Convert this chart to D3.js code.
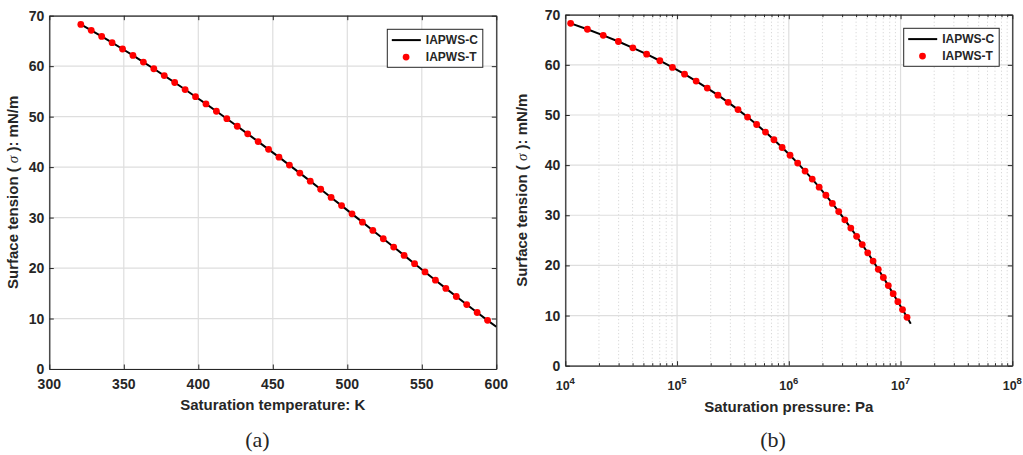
<!DOCTYPE html>
<html>
<head>
<meta charset="utf-8">
<script src="https://cdn.jsdelivr.net/npm/d3@7"></script>
<style>
  body { margin: 0; background: #fff; }
  text { font-family: "Liberation Sans", Arial, sans-serif; fill: #262626; }
</style>
</head>
<body>
<div id="chart"></div>
<script>
// saturation temperature of the IAPWS-T points (K)
const satTempK = [321.15, 328.15, 335.15, 342.15, 349.15, 356.15, 363.15, 370.15, 377.15, 384.15,
    391.15, 398.15, 405.15, 412.15, 419.15, 426.15, 433.15, 440.15, 447.15, 454.15,
    461.15, 468.15, 475.15, 482.15, 489.15, 496.15, 503.15, 510.15, 517.15, 524.15,
    531.15, 538.15, 545.15, 552.15, 559.15, 566.15, 573.15, 580.15, 587.15, 594.15];

// saturation pressure of the same points (Pa)
const satPressurePa = [11165, 15763, 21848, 29859, 40218, 53436, 70183, 90970, 116720, 148200,
    186310, 232230, 286700, 351300, 427130, 515490, 618230, 736100, 871550, 1025900,
    1200800, 1398800, 1620600, 1869500, 2147000, 2455000, 2797100, 3173300, 3588200, 4043200,
    4540900, 5085300, 5676200, 6319700, 7017000, 7770300, 8587900, 9466300, 10414000, 11433000];

// surface tension (mN/m)
const sigmaPts = [68.28, 67.10, 65.89, 64.66, 63.40, 62.12, 60.82, 59.49, 58.14, 56.76,
    55.37, 53.95, 52.52, 51.07, 49.59, 48.10, 46.59, 45.06, 43.52, 41.97,
    40.40, 38.81, 37.22, 35.61, 33.99, 32.37, 30.74, 29.10, 27.45, 25.81,
    24.16, 22.51, 20.87, 19.23, 17.59, 15.97, 14.36, 12.77, 11.19, 9.64];

// IAPWS-C curve keeps going to the end of the temperature axis
const curveEndTempK = [600];
const curveEndPressurePa = [12344000];
const curveEndSigma = [8.38];

const sigmaTicks = [0, 10, 20, 30, 40, 50, 60, 70];
const tempTicks = [300, 350, 400, 450, 500, 550, 600];
const pressureTicks = [1e4, 1e5, 1e6, 1e7, 1e8];
const seriesNames = ["IAPWS-C", "IAPWS-T"];
const captions = ["(a)", "(b)"];

const W = 1023, H = 455;
const axisColor = "#262626";

const svg = d3.select("#chart")
    .append("svg")
    .attr("width", W)
    .attr("height", H);

svg.append("rect").attr("width", W).attr("height", H).attr("fill", "#fff");

function drawPanel(cfg) {
    const x = cfg.x, y = cfg.y;
    const [x0, x1] = x.range();
    const [y0, y1] = y.range(); // y0 bottom, y1 top
    const g = svg.append("g");

    // minor grid (log panel only)
    if (cfg.minor) {
        g.selectAll(".minor-grid")
            .data(cfg.minor)
            .enter()
            .append("line")
            .attr("x1", d => x(d)).attr("x2", d => x(d))
            .attr("y1", y0).attr("y2", y1)
            .attr("stroke", "#c4c4c4")
            .attr("stroke-width", 0.8)
            .attr("stroke-dasharray", "1,2.5");
    }

    // major grid
    g.selectAll(".vgrid")
        .data(cfg.xTicks)
        .enter()
        .append("line")
        .attr("x1", d => x(d)).attr("x2", d => x(d))
        .attr("y1", y0).attr("y2", y1)
        .attr("stroke", "#dedede")
        .attr("stroke-width", 1.2);

    g.selectAll(".hgrid")
        .data(sigmaTicks)
        .enter()
        .append("line")
        .attr("x1", x0).attr("x2", x1)
        .attr("y1", d => y(d)).attr("y2", d => y(d))
        .attr("stroke", "#dedede")
        .attr("stroke-width", 1.2);

    // curve
    const line = d3.line()
        .x(d => x(d[0]))
        .y(d => y(d[1]));

    g.append("path")
        .datum(cfg.curve)
        .attr("d", line)
        .attr("fill", "none")
        .attr("stroke", "#000")
        .attr("stroke-width", 2);

    // points
    g.selectAll(".pt")
        .data(cfg.points)
        .enter()
        .append("circle")
        .attr("cx", d => x(d[0]))
        .attr("cy", d => y(d[1]))
        .attr("r", 3.4)
        .attr("fill", "#ff0000");

    // axes, ticks inward on all four sides
    const tl = 4.5;
    g.append("g").attr("transform", `translate(0,${y0})`)
        .call(d3.axisBottom(x).tickValues(cfg.xTicks).tickSizeInner(-tl).tickSizeOuter(0).tickFormat(""));
    g.append("g").attr("transform", `translate(0,${y1})`)
        .call(d3.axisTop(x).tickValues(cfg.xTicks).tickSizeInner(-tl).tickSizeOuter(0).tickFormat(""));
    g.append("g").attr("transform", `translate(${x0},0)`)
        .call(d3.axisLeft(y).tickValues(sigmaTicks).tickSizeInner(-tl).tickSizeOuter(0).tickFormat(""));
    g.append("g").attr("transform", `translate(${x1},0)`)
        .call(d3.axisRight(y).tickValues(sigmaTicks).tickSizeInner(-tl).tickSizeOuter(0).tickFormat(""));

    if (cfg.minor) {
        g.append("g").attr("transform", `translate(0,${y0})`)
            .call(d3.axisBottom(x).tickValues(cfg.minor).tickSizeInner(-2.5).tickSizeOuter(0).tickFormat(""))
            .select(".domain").remove();
        g.append("g").attr("transform", `translate(0,${y1})`)
            .call(d3.axisTop(x).tickValues(cfg.minor).tickSizeInner(-2.5).tickSizeOuter(0).tickFormat(""))
            .select(".domain").remove();
    }

    g.selectAll(".domain").attr("stroke", axisColor).attr("stroke-width", 1.2);
    g.selectAll(".tick line").attr("stroke", axisColor).attr("stroke-width", 1);

    // tick labels
    g.selectAll(".ylab")
        .data(sigmaTicks)
        .enter()
        .append("text")
        .attr("x", x0 - 5)
        .attr("y", d => y(d))
        .attr("dy", "0.36em")
        .attr("text-anchor", "end")
        .style("font-size", "14px")
        .style("font-weight", "bold")
        .text(d => d);

    if (cfg.log) {
        const lab = g.selectAll(".xlab")
            .data(cfg.xTicks)
            .enter()
            .append("text")
            .attr("x", d => x(d))
            .attr("y", y0 + 24)
            .attr("text-anchor", "middle")
            .style("font-size", "12.5px")
            .style("font-weight", "bold");
        lab.append("tspan").text("10");
        lab.append("tspan")
            .attr("dy", -6)
            .style("font-size", "9.5px")
            .text(d => Math.round(Math.log10(d)));
    } else {
        g.selectAll(".xlab")
            .data(cfg.xTicks)
            .enter()
            .append("text")
            .attr("x", d => x(d))
            .attr("y", y0 + 20)
            .attr("text-anchor", "middle")
            .style("font-size", "14px")
            .style("font-weight", "bold")
            .text(d => d);
    }

    // axis titles
    g.append("text")
        .attr("x", (x0 + x1) / 2)
        .attr("y", cfg.xTitleY)
        .attr("text-anchor", "middle")
        .style("font-size", "15px")
        .style("font-weight", "bold")
        .text(cfg.xTitle);

    const yt = g.append("text")
        .attr("transform", `translate(${cfg.yTitleX},${(y0 + y1) / 2}) rotate(-90)`)
        .attr("text-anchor", "middle")
        .style("font-size", "15px")
        .style("font-weight", "bold");
    yt.append("tspan").text("Surface tension ( ");
    yt.append("tspan")
        .style("font-family", "'Liberation Serif', serif")
        .style("font-style", "italic")
        .style("font-weight", "normal")
        .text("\u03C3");
    yt.append("tspan").text(" ): mN/m");

    // legend
    const lg = g.append("g").attr("transform", `translate(${cfg.legend[0]},${cfg.legend[1]})`);
    lg.append("rect")
        .attr("width", 95.5).attr("height", 38)
        .attr("fill", "#fff")
        .attr("stroke", axisColor)
        .attr("stroke-width", 1);
    lg.append("line")
        .attr("x1", 4.5).attr("x2", 33.5)
        .attr("y1", 10.8).attr("y2", 10.8)
        .attr("stroke", "#000").attr("stroke-width", 2);
    lg.append("circle")
        .attr("cx", 18.8).attr("cy", 27.8).attr("r", 3.4)
        .attr("fill", "#ff0000");
    lg.selectAll(".lgtext")
        .data(seriesNames)
        .enter()
        .append("text")
        .attr("x", 38.5)
        .attr("y", (d, i) => 10.8 + i * 17)
        .attr("dy", "0.36em")
        .style("font-size", "12px")
        .style("font-weight", "bold")
        .text(d => d);

    // caption
    svg.append("text")
        .attr("x", cfg.captionX)
        .attr("y", 447)
        .attr("text-anchor", "middle")
        .style("font-family", "'Liberation Serif', 'DejaVu Serif', serif")
        .style("font-size", "22px")
        .text(cfg.caption);
}

// panel (a): sigma vs temperature
const xTemp = d3.scaleLinear().domain([300, 600]).range([49.3, 496.3]);
const yA = d3.scaleLinear().domain([0, 70]).range([369, 15.7]);

drawPanel({
    x: xTemp, y: yA,
    xTicks: tempTicks,
    points: satTempK.map((t, i) => [t, sigmaPts[i]]),
    curve: satTempK.map((t, i) => [t, sigmaPts[i]])
        .concat(curveEndTempK.map((t, i) => [t, curveEndSigma[i]])),
    xTitle: "Saturation temperature: K",
    xTitleY: 410,
    yTitleX: 18,
    legend: [387.3, 29.3],
    caption: captions[0],
    captionX: 257.5
});

// panel (b): sigma vs pressure (log)
const xPres = d3.scaleLog().domain([1e4, 1e8]).range([565.3, 1012.3]);
const yB = d3.scaleLinear().domain([0, 70]).range([365.7, 14.7]);
const minorTicks = xPres.ticks().filter(d => pressureTicks.indexOf(d) < 0);

drawPanel({
    x: xPres, y: yB,
    xTicks: pressureTicks,
    minor: minorTicks,
    log: true,
    points: satPressurePa.map((p, i) => [p, sigmaPts[i]]),
    curve: satPressurePa.map((p, i) => [p, sigmaPts[i]])
        .concat(curveEndPressurePa.map((p, i) => [p, curveEndSigma[i]])),
    xTitle: "Saturation pressure: Pa",
    xTitleY: 412,
    yTitleX: 527,
    legend: [903.7, 28.3],
    caption: captions[1],
    captionX: 773
});
</script>
</body>
</html>
